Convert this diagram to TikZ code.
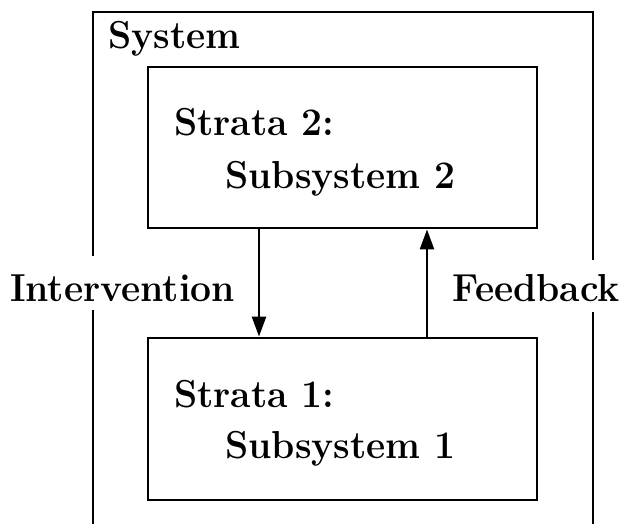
\documentclass[tikz,border=0pt]{standalone}
\usetikzlibrary{arrows.meta}
\begin{document}
\begin{tikzpicture}[x=1pt,y=-1pt,
  box/.style={draw,line width=2.8pt},
  lbl/.style={font=\fontsize{39}{46}\selectfont\bfseries,inner sep=0pt,anchor=base west,xscale=0.955},
  conn/.style={line width=2.4pt,-{Triangle[length=20pt,width=14pt]}}]
\useasboundingbox (0,0) rectangle (623,523);
\begin{scope}
\clip (0,0) rectangle (623,523);
\draw[line width=2.8pt] (93,540) -- (93,310);
\draw[line width=2.8pt] (93,256) -- (93,12) -- (593,12) -- (593,260);
\draw[line width=2.8pt] (593,312) -- (593,540);
\end{scope}
\node[lbl] (sys) at (108,48) {System};
\node[box,minimum width=389pt,minimum height=161pt,inner sep=0pt] (top) at (342.5,147.5) {};
\node[box,minimum width=389pt,minimum height=162pt,inner sep=0pt] (bot) at (342.5,419) {};
\node[lbl] (s2a) at (174,135) {Strata 2:};
\node[lbl] (s2b) at (225,188) {Subsystem 2};
\node[lbl] (s1a) at (174,407) {Strata 1:};
\node[lbl] (s1b) at (225,458) {Subsystem 1};
\node[lbl] (int) at (10,301) {Intervention};
\node[lbl] (fb) at (452,301) {Feedback};
\draw[conn] (top.south -| 259,0) -- (bot.north -| 259,0);
\draw[conn] (bot.north -| 427,0) -- (top.south -| 427,0);
\end{tikzpicture}
\end{document}
